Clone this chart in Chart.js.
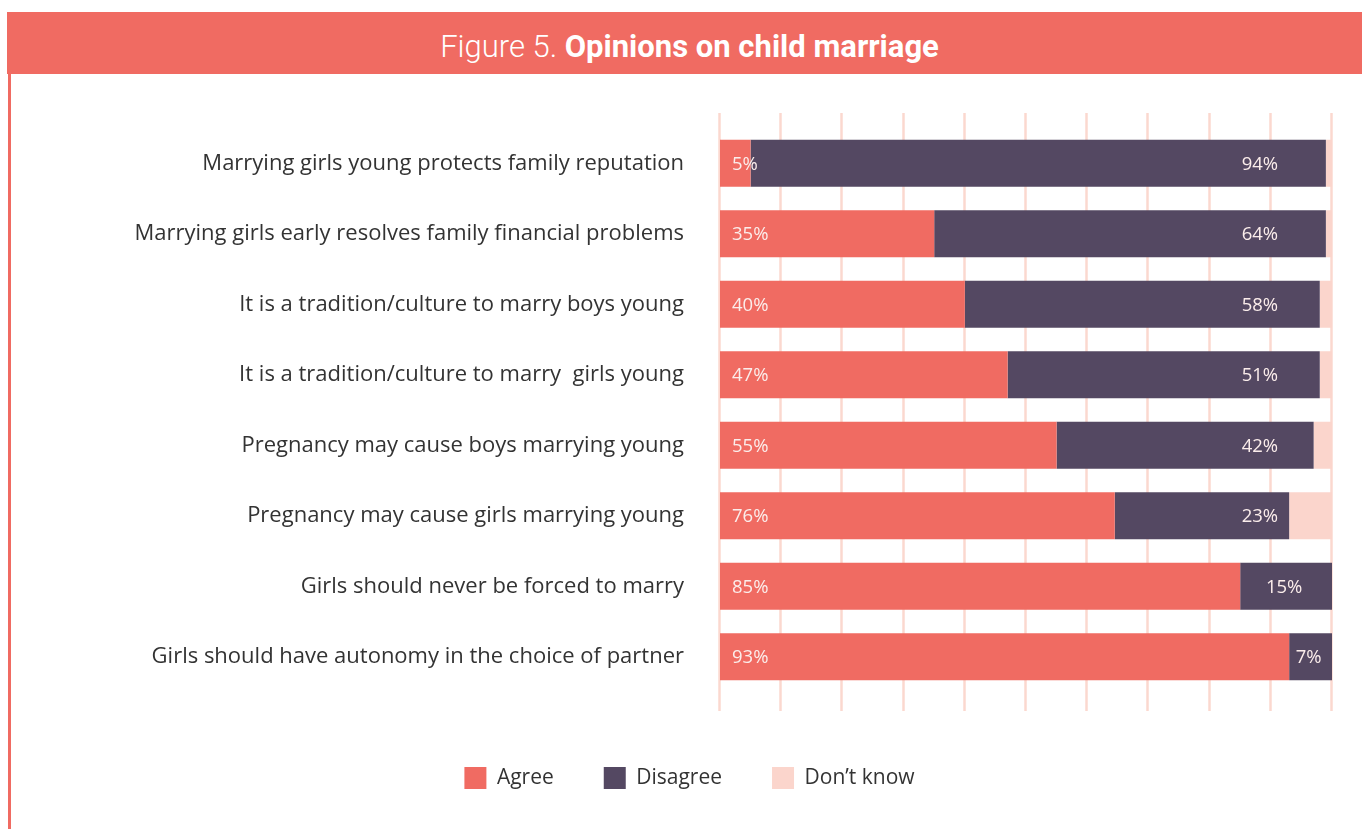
<!DOCTYPE html>
<html><head><meta charset="utf-8">
<script src="https://cdn.jsdelivr.net/npm/chart.js@4/dist/chart.umd.min.js"></script>
<style>
html,body{margin:0;padding:0;background:#fff;width:1362px;height:829px;overflow:hidden;}
#banner{position:absolute;left:7px;top:12px;width:1355px;padding-left:10px;height:62px;background:#F06B62;color:#fff;font-family:Roboto,'Open Sans',sans-serif;font-size:31px;display:flex;align-items:center;justify-content:center;padding-top:7px;box-sizing:border-box;}
#banner .light{font-weight:300;white-space:pre;}
#banner b{font-weight:700;}
#lborder{position:absolute;left:8px;top:74px;width:3px;height:755px;background:#F06B62;}
#wrap{position:absolute;left:12px;top:74px;width:1350px;height:755px;}
</style></head>
<body>
<div id="banner"><span class="light">Figure 5. </span><b>Opinions on child marriage</b></div>
<div id="lborder"></div>
<div id="wrap"><canvas id="c"></canvas></div>
<script>
const categories = [
  'Marrying girls young protects family reputation',
  'Marrying girls early resolves family financial problems',
  'It is a tradition/culture to marry boys young',
  'It is a tradition/culture to marry  girls young',
  'Pregnancy may cause boys marrying young',
  'Pregnancy may cause girls marrying young',
  'Girls should never be forced to marry',
  'Girls should have autonomy in the choice of partner'
];
const agreeValues = [5, 35, 40, 47, 55, 64.5, 85, 93];
const disagreeValues = [94, 64, 58, 51, 42, 28.5, 15, 7];
const dontKnowValues = [1, 1, 2, 2, 3, 7, 0, 0];
const agreeLabels = ['5%', '35%', '40%', '47%', '55%', '76%', '85%', '93%'];
const disagreeLabels = ['94%', '64%', '58%', '51%', '42%', '23%', '15%', '7%'];
const xTicks = [0, 10, 20, 30, 40, 50, 60, 70, 80, 90, 100];
const disagreeLabelAnchor = 91.2;

const gridPlugin = {
  id: 'gridPlugin',
  beforeDatasetsDraw(chart) {
    const ctx = chart.ctx, x = chart.scales.x, a = chart.chartArea;
    ctx.save();
    ctx.strokeStyle = '#FBD8CF';
    ctx.lineWidth = 2.5;
    xTicks.forEach(t => {
      const px = Math.round(x.getPixelForValue(t)) - 0.5;
      ctx.beginPath();
      ctx.moveTo(px, a.top - 15);
      ctx.lineTo(px, a.bottom + 19);
      ctx.stroke();
    });
    ctx.restore();
  }
};

const labelPlugin = {
  id: 'labelPlugin',
  afterDatasetsDraw(chart) {
    const ctx = chart.ctx, x = chart.scales.x;
    ctx.save();
    ctx.font = '18.5px "Open Sans"';
    ctx.fillStyle = '#FBEDEB';
    ctx.textBaseline = 'middle';
    chart.getDatasetMeta(0).data.forEach((bar, i) => {
      ctx.textAlign = 'left';
      ctx.fillText(agreeLabels[i], Math.min(bar.base, bar.x) + 12, bar.y + 1);
    });
    const anchor = x.getPixelForValue(disagreeLabelAnchor);
    chart.getDatasetMeta(1).data.forEach((bar, i) => {
      const lbl = disagreeLabels[i];
      const w = ctx.measureText(lbl).width;
      const start = Math.min(bar.base, bar.x), end = Math.max(bar.base, bar.x);
      if (start + w + 24 < anchor) {
        ctx.textAlign = 'right';
        ctx.fillText(lbl, anchor, bar.y + 1);
      } else {
        ctx.textAlign = 'center';
        ctx.fillText(lbl, (start + end) / 2 - 2, bar.y + 1);
      }
    });
    ctx.restore();
  }
};

new Chart(document.getElementById('c'), {
  type: 'bar',
  data: {
    labels: categories,
    datasets: [
      { label: 'Agree', data: agreeValues, backgroundColor: '#F06B62', borderWidth: 0 },
      { label: 'Disagree', data: disagreeValues, backgroundColor: '#544862', borderWidth: 0 },
      { label: 'Don\u2019t know', data: dontKnowValues, backgroundColor: '#FBD5CC', borderWidth: 0 }
    ]
  },
  options: {
    indexAxis: 'y',
    responsive: true,
    maintainAspectRatio: false,
    animation: false,
    datasets: { bar: { categoryPercentage: 1, barPercentage: 0.667 } },
    layout: { padding: { top: 54, bottom: 30, right: 30, left: 35 } },
    scales: {
      x: {
        stacked: true, min: 0, max: 100,
        grid: { display: false, drawTicks: false },
        border: { display: false },
        ticks: { display: false },
        afterFit(s) { s.height = 25; }
      },
      y: {
        stacked: true,
        grid: { display: false, drawTicks: false },
        border: { display: false },
        ticks: { color: '#333333', font: { family: 'Open Sans', size: 22 }, padding: 36 },
        afterFit(s) { s.width = 673; }
      }
    },
    plugins: {
      legend: {
        position: 'bottom',
        labels: { boxWidth: 22, boxHeight: 22, padding: 50, color: '#333333', font: { family: 'Open Sans', size: 21 } }
      },
      tooltip: { enabled: false },
      title: { display: false }
    }
  },
  plugins: [gridPlugin, labelPlugin]
});
</script>
</body></html>
